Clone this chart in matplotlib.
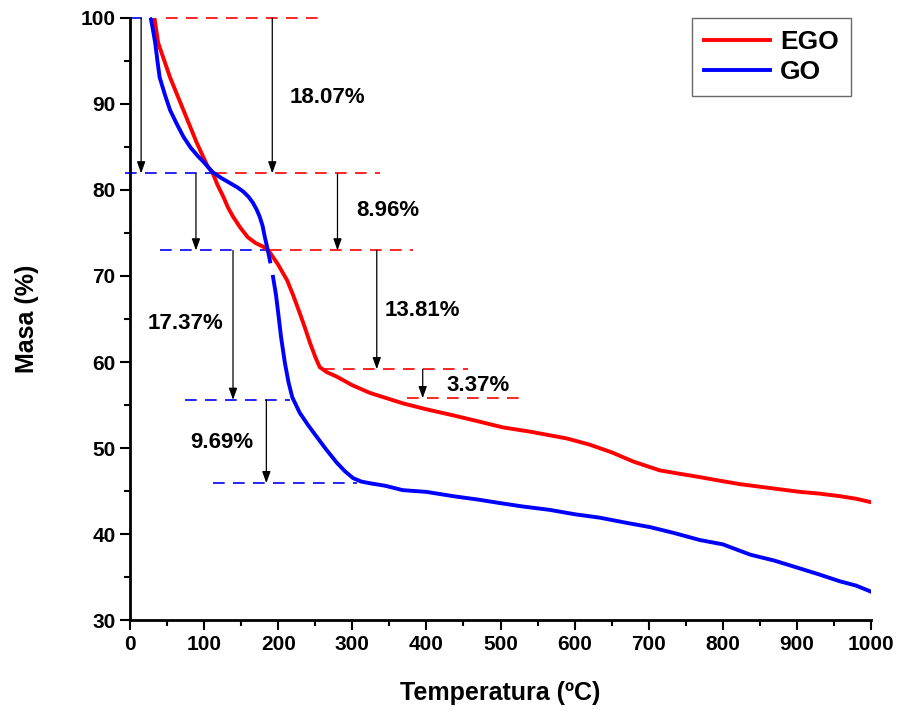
import numpy as np
import matplotlib
matplotlib.use("Agg")
import matplotlib.pyplot as plt
from matplotlib.ticker import MultipleLocator

plt.rcParams['font.family'] = ['Liberation Sans', 'DejaVu Sans']
plt.rcParams['font.weight'] = 'bold'

# EGO curve
ego_t = [33, 38, 46, 54, 63, 72, 81, 90, 98, 105, 111, 118, 126, 132, 139, 149, 159, 170, 180, 189,
         200, 212, 220, 229, 236, 243, 250, 256, 266, 279, 300, 324, 346, 368, 400, 436, 470, 503,
         540, 590, 620, 650, 680, 715, 742, 770, 796, 823, 850, 877, 904, 930, 958, 980, 1000]
ego_m = [100, 97.1, 95.1, 93.1, 91.2, 89.3, 87.4, 85.5, 84.0, 82.7, 82.1, 80.6, 79.2, 78.0, 76.9, 75.6, 74.5, 73.8, 73.4, 72.7,
         71.3, 69.5, 67.8, 65.7, 64.0, 62.2, 60.6, 59.4, 58.8, 58.3, 57.3, 56.4, 55.8, 55.2, 54.5, 53.8, 53.1, 52.4,
         51.9, 51.1, 50.4, 49.5, 48.4, 47.4, 47.0, 46.6, 46.2, 45.8, 45.5, 45.2, 44.9, 44.7, 44.4, 44.1, 43.7]

# GO curve, with a small break near 190 ºC
go_t = [28, 31, 34, 37, 40, 47, 54, 63, 72, 82, 92, 100, 111, 123, 135, 145, 153, 160, 166, 171,
        175, 179, 182, 186, 189, np.nan, 193, 197, 200, 204, 209, 214, 219, 229, 240, 252, 265,
        279, 290, 301, 312, 324, 345, 368, 400, 436, 470, 499, 530, 567, 600, 634,
        670, 702, 735, 769, 800, 837, 870, 904, 930, 958, 980, 1000]
go_m = [100, 98.6, 97.1, 95.0, 93.1, 91.1, 89.3, 87.7, 86.2, 84.9, 83.9, 83.2, 82.1, 81.4, 80.8, 80.3, 79.8, 79.2, 78.5, 77.7,
        76.9, 75.8, 74.5, 73.0, 71.7, np.nan, 69.9, 67.8, 65.7, 62.8, 59.9, 57.6, 55.9, 54.1, 52.7, 51.3, 49.8,
        48.3, 47.3, 46.5, 46.1, 45.9, 45.6, 45.1, 44.9, 44.4, 44.0, 43.6, 43.2, 42.8, 42.3, 41.9,
        41.3, 40.8, 40.1, 39.3, 38.8, 37.6, 36.9, 36.0, 35.3, 34.5, 34.0, 33.3]

# mass-loss steps: (level, x start, x end, colour)
levels = [(100.0, 0, 30, 'b'), (100.0, 48, 254, 'r'),
          (81.93, -7, 115, 'b'), (81.93, 115, 338, 'r'),
          (72.97, 40, 189, 'b'), (72.97, 189, 382, 'r'),
          (59.16, 260, 456, 'r'), (55.79, 374, 533, 'r'),
          (55.60, 74, 216, 'b'), (45.91, 112, 306, 'b')]
arrows = [(15, 100.0, 81.93), (192, 100.0, 81.93), (89, 81.93, 72.97), (280, 81.93, 72.97),
          (139, 72.97, 55.60), (333, 72.97, 59.16), (395, 59.16, 55.79), (184, 55.60, 45.91)]
labels = [(267, 90.7, '18.07%'), (348, 77.6, '8.96%'), (395, 66.0, '13.81%'), (470, 57.3, '3.37%'),
          (75, 64.5, '17.37%'), (124, 50.6, '9.69%')]

fig = plt.figure(figsize=(9.01, 7.13), dpi=100)
ax = fig.add_axes([0.1443, 0.1304, 0.8224, 0.8444])

ax.plot(ego_t, ego_m, color='#ff0000', lw=2.8, label='EGO', zorder=3)
ax.plot(go_t, go_m, color='#0000ff', lw=2.8, label='GO', zorder=3)

for y, x0, x1, c in levels:
    col = '#ff0000' if c == 'r' else '#0000ff'
    ax.plot([x0, x1], [y, y], color=col, lw=1.2, dashes=(7, 5), clip_on=False, zorder=2)

for x, y0, y1 in arrows:
    ax.annotate('', xy=(x, y1), xytext=(x, y0),
                arrowprops=dict(arrowstyle='-|>,head_length=0.7,head_width=0.25',
                                color='black', lw=0.9, shrinkA=0, shrinkB=0))

for x, y, s in labels:
    ax.text(x, y, s, fontsize=16, fontweight='bold', ha='center', va='center')

ax.set_xlim(0, 1000)
ax.set_ylim(30, 100)
ax.xaxis.set_major_locator(MultipleLocator(100))
ax.xaxis.set_minor_locator(MultipleLocator(50))
ax.yaxis.set_major_locator(MultipleLocator(10))
ax.yaxis.set_minor_locator(MultipleLocator(5))
ax.tick_params(which='major', direction='out', length=7, width=1.5, labelsize=15)
ax.tick_params(which='minor', direction='out', length=4, width=1.5)
for lab in ax.get_xticklabels() + ax.get_yticklabels():
    lab.set_fontweight('bold')

for side in ['top', 'right']:
    ax.spines[side].set_visible(False)
for side in ['left', 'bottom']:
    ax.spines[side].set_linewidth(2)

ax.set_xlabel('Temperatura (ºC)', fontsize=18, fontweight='bold', labelpad=20)
ax.set_ylabel('Masa (%)', fontsize=18, fontweight='bold', labelpad=30)

leg = ax.legend(loc='upper right', bbox_to_anchor=(0.973, 1.0), fancybox=False,
                edgecolor='#444444', fontsize=19, handlelength=2.5, handletextpad=0.4,
                borderpad=0.45, labelspacing=0.25, borderaxespad=0)
leg.get_frame().set_linewidth(1.0)
for t in leg.get_texts():
    t.set_fontweight('bold')

fig.savefig('out.png', dpi=100)
